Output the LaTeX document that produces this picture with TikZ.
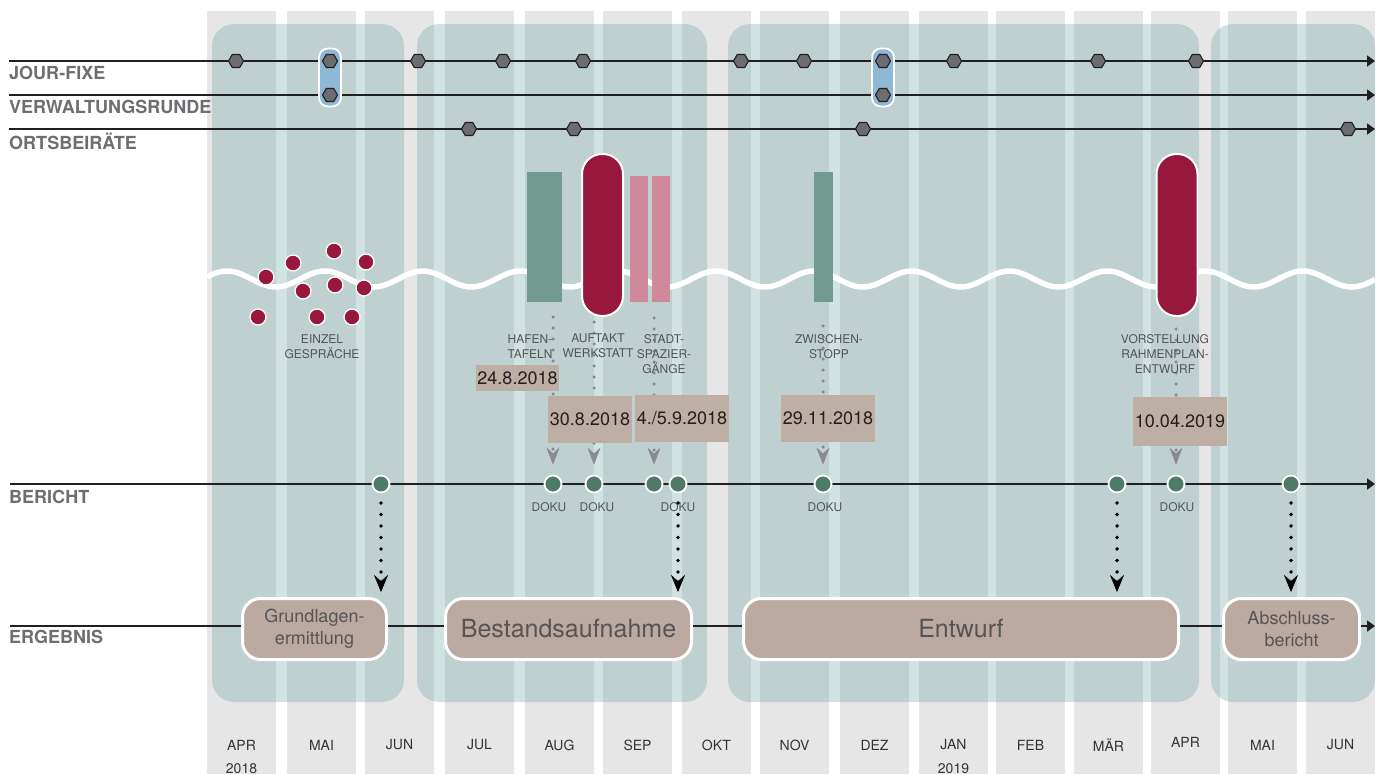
\documentclass[tikz,border=0pt]{standalone}
\usepackage{fontspec}
\setmainfont{TeX Gyre Heros}
\usetikzlibrary{arrows.meta,shapes.geometric}
\definecolor{colgray}{HTML}{E6E6E6}
\definecolor{phaseteal}{RGB}{100,160,160}
\definecolor{hexfill}{HTML}{6C6D70}
\definecolor{linedark}{HTML}{231F20}
\definecolor{capblue}{HTML}{8FB7D6}
\definecolor{crimson}{HTML}{97183C}
\definecolor{barteal}{HTML}{709B8E}
\definecolor{barpink}{HTML}{D0899A}
\definecolor{dokugreen}{HTML}{4E7A6A}
\definecolor{datebeige}{HTML}{BFAEA3}
\definecolor{resbeige}{HTML}{BCAAA0}
\definecolor{labgray}{HTML}{6D6E71}
\definecolor{dotgray}{HTML}{8A8A8E}
\definecolor{txtdark}{HTML}{555558}
\definecolor{datetext}{HTML}{231F20}
\definecolor{monthtext}{HTML}{333333}
\begin{document}
\begin{tikzpicture}[x=1pt,y=-1pt,
  colfill/.style={fill=colgray},
  phasebox/.style={fill=phaseteal,fill opacity=0.3,rounded corners=22pt},
  timeline/.style={draw=linedark,line width=1.8pt,-{Triangle[length=8pt,width=11pt]}},
  plainline/.style={draw=linedark,line width=1.8pt},
  hexnode/.style={regular polygon,regular polygon sides=6,minimum size=15pt,inner sep=0pt,fill=hexfill,draw=linedark,line width=1.1pt},
  bluecap/.style={rectangle,rounded corners=9pt,fill=capblue,draw=white,line width=1.8pt,minimum width=22pt,minimum height=58pt,inner sep=0pt},
  sidelbl/.style={font=\bfseries\fontsize{18}{18}\selectfont,text=labgray,anchor=base west,inner sep=0pt},
  redcap/.style={rectangle,rounded corners=20pt,fill=crimson,draw=white,line width=2pt,minimum width=41pt,minimum height=162pt,inner sep=0pt},
  tealbar/.style={rectangle,fill=barteal,minimum height=130pt,inner sep=0pt},
  pinkbar/.style={rectangle,fill=barpink,minimum width=18pt,minimum height=126pt,inner sep=0pt},
  reddot/.style={circle,fill=crimson,draw=white,line width=1.3pt,minimum size=16pt,inner sep=0pt},
  evlbl/.style={font=\fontsize{12}{15}\selectfont,text=txtdark,align=center,inner sep=0pt},
  datebox/.style={rectangle,fill=datebeige,font=\fontsize{18}{18}\selectfont,text=datetext,inner sep=0pt},
  dokudot/.style={circle,fill=dokugreen,draw=white,line width=1.8pt,minimum size=17pt,inner sep=0pt},
  dokulbl/.style={font=\fontsize{12}{12}\selectfont,text=txtdark,inner sep=0pt},
  grayarrow/.style={draw=dotgray,line width=3.5pt,line cap=round,dash pattern=on 0pt off 11pt,-{Stealth[length=17pt,width=13pt,inset=6pt,line width=0.5pt]}},
  blackarrow/.style={draw=black,line width=3.8pt,line cap=round,dash pattern=on 0pt off 11.5pt,-{Stealth[length=17pt,width=14pt,inset=6pt,line width=0.5pt]}},
  resbox/.style={rectangle,rounded corners=18pt,fill=resbeige,draw=white,line width=3pt,text=txtdark,align=center,inner sep=0pt,minimum height=61pt},
  monthlbl/.style={font=\fontsize{14}{14}\selectfont,text=monthtext,inner sep=0pt},
]
\useasboundingbox (0,0) rectangle (1381,774);
% month columns
\foreach \s in {207,287,365,445,525,603,682,760,840,919,996,1074,1151,1228,1306}
  \fill[colfill] (\s,11) rectangle ++(69,763);
% phase boxes
\fill[phasebox] (212,24) rectangle (404,702);
\fill[phasebox] (417,24) rectangle (707,702);
\fill[phasebox] (728,24) rectangle (1199,702);
\fill[phasebox] (1211,24) rectangle (1375,702);
% wave
\draw[white,line width=5.5pt] plot[domain=207:1375,samples=400] (\x,{279-8*cos(3.681*(\x-227))});
% top timelines
\coordinate (jfL) at (9,61);  \coordinate (jfR) at (1375,61);
\coordinate (vwL) at (9,95);  \coordinate (vwR) at (1375,95);
\coordinate (obL) at (9,129); \coordinate (obR) at (1375,129);
\draw[timeline] (jfL) -- (jfR);
\draw[timeline] (vwL) -- (vwR);
\draw[timeline] (obL) -- (obR);
\node[sidelbl] (lblJF) at (9,79) {JOUR-FIXE};
\node[sidelbl] (lblVW) at (9,113) {VERWALTUNGSRUNDE};
\node[sidelbl] (lblOB) at (9,149) {ORTSBEIRÄTE};
\node[bluecap] (cap1) at (330,77.5) {};
\node[bluecap] (cap2) at (883,77.5) {};
\foreach \x [count=\i] in {236,330,418,503,583,741,804,883,954,1098,1196}
  \node[hexnode] (jf\i) at (\x,61) {};
\node[hexnode] (vw1) at (330,95) {};
\node[hexnode] (vw2) at (883,95) {};
\foreach \x [count=\i] in {469,574,863,1348}
  \node[hexnode] (ob\i) at (\x,129) {};
% single conversations
\foreach \x/\y [count=\i] in {266/277,293/263,334/251,366/262,303/291,335/285,364/288,258/317,317/317,352/317}
  \node[reddot] (rd\i) at (\x,\y) {};
\node[evlbl] (einzel) at (322,347.2) {EINZEL\\GESPRÄCHE};
% event bars
\node[tealbar,minimum width=35pt] (hafen) at (544.5,237) {};
\node[redcap] (auftakt) at (602.5,235) {};
\node[pinkbar] (stadtA) at (639,239) {};
\node[pinkbar] (stadtB) at (661,239) {};
\node[tealbar,minimum width=19pt] (zwischen) at (823.5,237) {};
\node[redcap] (vorst) at (1177,235) {};
% report line
\coordinate (brL) at (10,484); \coordinate (brR) at (1375,484);
\draw[timeline] (brL) -- (brR);
\node[sidelbl] (lblBR) at (9,503) {BERICHT};
\foreach \x [count=\i] in {381,553,594,654,678,823,1117,1176,1291}
  \node[dokudot] (b\i) at (\x,484) {};
\node[dokulbl] (dk1) at (549,507.5) {DOKU};
\node[dokulbl] (dk2) at (597,507.5) {DOKU};
\node[dokulbl] (dk3) at (678,507.5) {DOKU};
\node[dokulbl] (dk4) at (825,507.5) {DOKU};
\node[dokulbl] (dk5) at (1177,507.5) {DOKU};
% gray dotted arrows
\coordinate (ga1) at (553,317);
\coordinate (ga2) at (594,322);
\coordinate (ga3) at (654,318);
\coordinate (ga4) at (823,326);
\coordinate (ga5) at (1176,329);
\draw[grayarrow,shorten >=10pt] (ga1) -- (b2);
\draw[grayarrow,shorten >=10pt] (ga2) -- (b3);
\draw[grayarrow,shorten >=10pt] (ga3) -- (b4);
\draw[grayarrow,shorten >=10pt] (ga4) -- (b6);
\draw[grayarrow,shorten >=10pt] (ga5) -- (b8);
% event labels
\node[evlbl] (lhafen) at (530,346.2) {HAFEN-\\TAFELN};
\node[evlbl] (lauftakt) at (598,346.2) {AUFTAKT\\WERKSTATT};
\node[evlbl] (lstadt) at (664,353.7) {STADT-\\SPAZIER-\\GÄNGE};
\node[evlbl] (lzwischen) at (829,346.2) {ZWISCHEN-\\STOPP};
\node[evlbl] (lvorst) at (1165,353.7) {VORSTELLUNG\\RAHMENPLAN-\\ENTWURF};
% dates
\node[datebox,minimum width=83pt,minimum height=26pt] (d1) at (517.5,378) {24.8.2018};
\node[datebox,minimum width=84pt,minimum height=47pt] (d2) at (590,419.5) {30.8.2018};
\node[datebox,minimum width=94pt,minimum height=47pt] (d3) at (682,418.5) {4./5.9.2018};
\node[datebox,minimum width=94pt,minimum height=47pt] (d4) at (828,418.5) {29.11.2018};
\node[datebox,minimum width=94pt,minimum height=49pt] (d5) at (1180,421.5) {10.04.2019};
% results
\coordinate (erL) at (10,626); \coordinate (erR) at (1375,626);
\node[sidelbl] (lblER) at (9,643) {ERGEBNIS};
\node[resbox,minimum width=144pt,font=\fontsize{18}{22}\selectfont] (grund) at (314.5,629) {Grundlagen-\\ermittlung};
\node[resbox,minimum width=246pt,font=\fontsize{25}{25}\selectfont] (bestand) at (568.5,629) {Bestandsaufnahme};
\node[resbox,minimum width=435pt,font=\fontsize{25}{25}\selectfont] (entwurf) at (961,629) {Entwurf};
\node[resbox,minimum width=136pt,font=\fontsize{18}{22}\selectfont] (abschl) at (1291.5,629) {Abschluss-\\bericht};
\draw[plainline] (erL) -- (erL -| grund.west);
\draw[plainline] (grund.east |- erL) -- (bestand.west |- erL);
\draw[plainline] (bestand.east |- erL) -- (entwurf.west |- erL);
\draw[plainline] (entwurf.east |- erL) -- (abschl.west |- erL);
\draw[timeline] (abschl.east |- erL) -- (erR);
% black dotted arrows
\draw[blackarrow,shorten <=9.5pt,shorten >=5pt] (b1) -- (b1 |- grund.north);
\draw[blackarrow,shorten <=9.5pt,shorten >=5pt] (b5) -- (b5 |- bestand.north);
\draw[blackarrow,shorten <=9.5pt,shorten >=5pt] (b7) -- (b7 |- entwurf.north);
\draw[blackarrow,shorten <=9.5pt,shorten >=5pt] (b9) -- (b9 |- abschl.north);
% months
\foreach \s/\m/\yy [count=\i] in {207/APR/745,287/MAI/745,365/JUN/745,445/JUL/745,525/AUG/745,603/SEP/745,682/OKT/745,760/NOV/745,840/DEZ/745,919/JAN/745,996/FEB/745,1074/MÄR/745,1151/APR/742,1228/MAI/745,1306/JUN/745}
  \node[monthlbl] (mon\i) at (\s+34.5,\yy) {\m};
\node[monthlbl] (yr2018) at (241.5,768.5) {2018};
\node[monthlbl] (yr2019) at (953.5,768.5) {2019};
\end{tikzpicture}
\end{document}
